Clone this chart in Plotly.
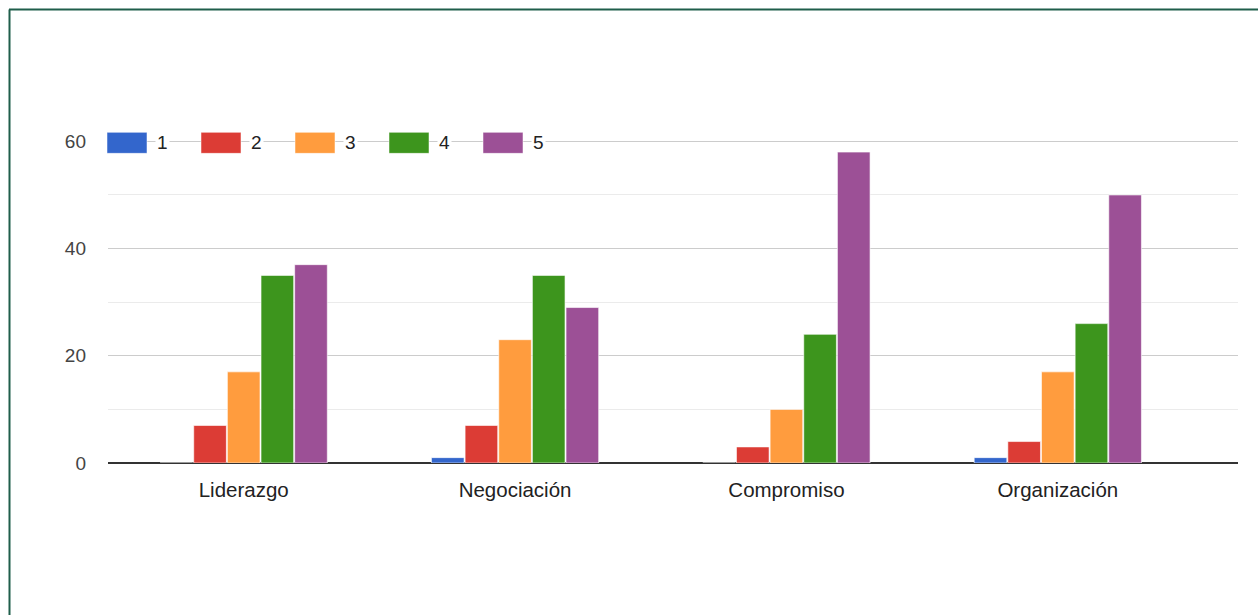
import plotly.graph_objects as go

# Survey answers (scale 1-5) per competency
categories = ["Liderazgo", "Negociación", "Compromiso", "Organización"]
series_names = ["1", "2", "3", "4", "5"]
values_1 = [0, 1, 0, 1]
values_2 = [7, 7, 3, 4]
values_3 = [17, 23, 10, 17]
values_4 = [35, 35, 24, 26]
values_5 = [37, 29, 58, 50]
y_ticks = [0, 20, 40, 60]

series_values = [values_1, values_2, values_3, values_4, values_5]
colors = ["#3366cc", "#dc3c35", "#ff9c3e", "#3d951d", "#9c5096"]

Y_MAX = 61
W, H = 1258, 615
ZERO_PX, TOP_TICK_PX = 463, 141
px_per_unit = (ZERO_PX - TOP_TICK_PX) / y_ticks[-1]
ML, MR = 108, 20
MB = H - ZERO_PX
MT = ZERO_PX - Y_MAX * px_per_unit
PW, PH = W - ML - MR, H - MT - MB


def px_x(px):
    return (px - ML) / PW


def px_y(py):
    return (H - MB - py) / PH


fig = go.Figure()
for name, vals, col in zip(series_names, series_values, colors):
    fig.add_trace(go.Bar(
        x=categories, y=vals, name=name,
        marker=dict(color=col, line=dict(color="rgba(255,255,255,0.6)", width=1)),
        showlegend=False,
    ))

font_family = "Liberation Sans, Arial, sans-serif"

shapes = []
annotations = []
# Legend drawn as wide swatches on the top gridline
for i, (name, col) in enumerate(zip(series_names, colors)):
    x0 = 107 + i * 94
    shapes.append(dict(
        type="rect", xref="paper", yref="paper",
        x0=px_x(x0), x1=px_x(x0 + 40), y0=px_y(153), y1=px_y(132),
        fillcolor=col, line=dict(color="rgba(255,255,255,0.5)", width=1), layer="above",
    ))
    annotations.append(dict(
        xref="paper", yref="paper", x=px_x(x0 + 48), y=px_y(142),
        xanchor="left", yanchor="middle", text=name, showarrow=False,
        font=dict(family=font_family, size=19, color="#222222"),
        bgcolor="white", borderpad=1,
    ))

# Frame lines along the top and left edges
shapes.append(dict(type="line", xref="paper", yref="paper",
                   x0=px_x(9), x1=px_x(W + 5), y0=px_y(9), y1=px_y(9),
                   line=dict(color="#1f5e4b", width=2)))
shapes.append(dict(type="line", xref="paper", yref="paper",
                   x0=px_x(9.5), x1=px_x(9.5), y0=px_y(9), y1=px_y(H + 5),
                   line=dict(color="#1f5e4b", width=2)))

fig.update_layout(
    width=W, height=H,
    margin=dict(l=ML, r=MR, t=MT, b=MB),
    paper_bgcolor="white", plot_bgcolor="white",
    barmode="group", bargap=0.38, bargroupgap=0.03,
    font=dict(family=font_family, size=19, color="#444444"),
    shapes=shapes, annotations=annotations,
    xaxis=dict(
        range=[-0.5, 3.664], showgrid=False, zeroline=False,
        showline=False, ticks="", ticklabelstandoff=12,
        tickfont=dict(size=20.5, color="#222222"),
    ),
    yaxis=dict(
        range=[0, Y_MAX], tickvals=y_ticks, showgrid=True,
        gridcolor="#cccccc", gridwidth=1,
        zeroline=True, zerolinecolor="#333333", zerolinewidth=2,
        showline=False, ticks="", ticklabelstandoff=21,
        tickfont=dict(size=19, color="#444444"),
        minor=dict(tick0=0, dtick=10, showgrid=True, gridcolor="#ebebeb", gridwidth=1),
    ),
)

fig.write_html("out.html")
